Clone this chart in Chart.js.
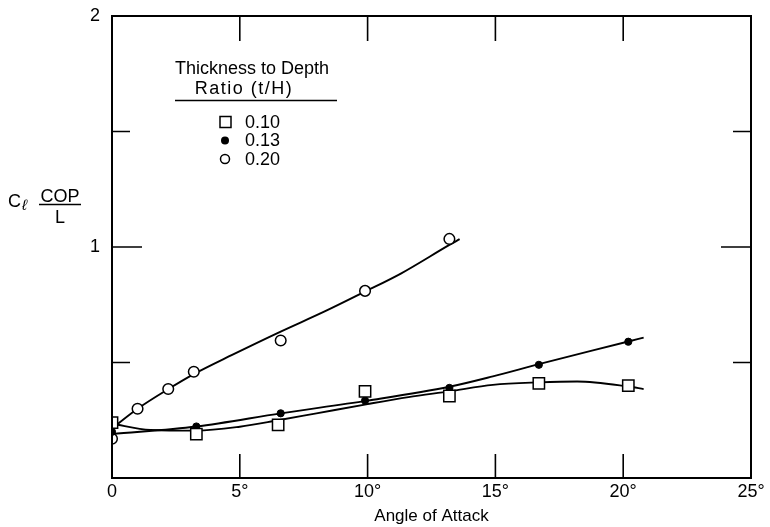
<!DOCTYPE html>
<html>
<head>
<meta charset="utf-8">
<script src="https://cdn.jsdelivr.net/npm/chart.js@4.4.1/dist/chart.umd.min.js"></script>
<style>
  body { margin: 0; background: #fff; }
  #wrap { width: 770px; height: 527px; }
</style>
</head>
<body>
<div id="wrap"><canvas id="copChart" width="770" height="527"></canvas></div>
<script>
// Measured points, thickness to depth ratio 0.10 / 0.13 / 0.20
const angles10 = [0, 3.3, 6.5, 9.9, 13.2, 16.7, 20.2];
const cop10 = [0.24, 0.19, 0.23, 0.375, 0.355, 0.41, 0.40];
const angles13 = [0, 3.3, 6.6, 9.9, 13.2, 16.7, 20.2];
const cop13 = [0.20, 0.223, 0.28, 0.335, 0.39, 0.49, 0.59];
const angles20 = [0, 1.0, 2.2, 3.2, 6.6, 9.9, 13.2];
const cop20 = [0.17, 0.30, 0.385, 0.46, 0.595, 0.81, 1.035];

// Faired curves drawn through the points
const fitAngles10 = [0, 1.5, 3.3, 5, 6.5, 8, 10, 11.6, 13.2, 14.9, 16.7, 18.2, 20.2, 20.8];
const fitCop10 = [0.235, 0.208, 0.205, 0.222, 0.25, 0.28, 0.32, 0.35, 0.375, 0.403, 0.414, 0.418, 0.396, 0.385];
const fitAngles13 = [0, 3.3, 6.6, 10, 13.2, 14.9, 16.7, 20.2, 20.8];
const fitCop13 = [0.19, 0.223, 0.28, 0.335, 0.395, 0.44, 0.493, 0.591, 0.608];
const fitAngles20 = [0, 1.0, 2.2, 3.2, 4.7, 6.6, 8.3, 9.9, 11.3, 13.2, 13.6];
const fitCop20 = [0.215, 0.30, 0.385, 0.45, 0.533, 0.634, 0.72, 0.807, 0.885, 1.009, 1.034];

const seriesLabels = ['0.10', '0.13', '0.20'];
const legendTitle = ['Thickness to Depth', 'Ratio (t/H)'];

// Axis ticks
const xTicks = [0, 5, 10, 15, 20, 25];
const xInnerTicks = [5, 10, 15, 20];
const yLabelTicks = [1, 2];
const yShortTicks = [0.5, 1.5];
const yLongTicks = [1];

const FONT = '"Liberation Sans", Arial, Helvetica, sans-serif';

function pairs(xs, ys) {
    return xs.map((x, i) => ({ x: x, y: ys[i] }));
}

// Frame with inward tick marks
const framePlugin = {
    id: 'frame',
    afterDatasetsDraw(chart) {
        const ctx = chart.ctx;
        const a = chart.chartArea;
        const xs = chart.scales.x;
        const ys = chart.scales.y;
        ctx.save();
        ctx.strokeStyle = '#000';
        ctx.lineWidth = 2;
        ctx.strokeRect(a.left, a.top, a.right - a.left, a.bottom - a.top);
        ctx.lineWidth = 1.6;
        ctx.beginPath();
        xInnerTicks.forEach(v => {
            const px = xs.getPixelForValue(v);
            ctx.moveTo(px, a.bottom); ctx.lineTo(px, a.bottom - 24);
            ctx.moveTo(px, a.top); ctx.lineTo(px, a.top + 25);
        });
        yShortTicks.forEach(v => {
            const py = ys.getPixelForValue(v);
            ctx.moveTo(a.left, py); ctx.lineTo(a.left + 18, py);
            ctx.moveTo(a.right, py); ctx.lineTo(a.right - 18, py);
        });
        yLongTicks.forEach(v => {
            const py = ys.getPixelForValue(v);
            ctx.moveTo(a.left, py); ctx.lineTo(a.left + 30, py);
            ctx.moveTo(a.right, py); ctx.lineTo(a.right - 30, py);
        });
        ctx.stroke();
        ctx.restore();
    }
};

// Legend block inside the plot and the y axis title
const notesPlugin = {
    id: 'notes',
    afterDraw(chart) {
        const ctx = chart.ctx;
        ctx.save();
        ctx.fillStyle = '#000';
        ctx.strokeStyle = '#000';
        ctx.font = '18px ' + FONT;
        ctx.textBaseline = 'middle';
        ctx.textAlign = 'center';
        ctx.fillText(legendTitle[0], 252, 69);
        ctx.letterSpacing = '1.5px';
        ctx.fillText(legendTitle[1], 244, 89);
        ctx.letterSpacing = '0px';
        ctx.lineWidth = 1.5;
        ctx.beginPath();
        ctx.moveTo(175, 100.5); ctx.lineTo(337, 100.5);
        ctx.stroke();

        // markers
        const rows = [122, 140.5, 159];
        ctx.lineWidth = 1.5;
        ctx.fillStyle = '#fff';
        ctx.fillRect(220, rows[0] - 5.5, 11, 11);
        ctx.strokeRect(220, rows[0] - 5.5, 11, 11);
        ctx.fillStyle = '#000';
        ctx.beginPath();
        ctx.arc(225, rows[1], 4, 0, Math.PI * 2);
        ctx.fill();
        ctx.beginPath();
        ctx.arc(225, rows[2], 4.5, 0, Math.PI * 2);
        ctx.stroke();

        ctx.textAlign = 'left';
        seriesLabels.forEach((t, i) => ctx.fillText(t, 245, rows[i] + 1));

        // y title: C_l * COP / L
        ctx.font = '18px ' + FONT;
        ctx.fillText('C', 8, 202);
        ctx.font = 'italic 15px ' + FONT;
        ctx.fillText('\u2113', 22, 206);
        ctx.font = '18px ' + FONT;
        ctx.textAlign = 'center';
        ctx.fillText('COP', 60, 197);
        ctx.fillText('L', 60, 218.5);
        ctx.lineWidth = 1.3;
        ctx.beginPath();
        ctx.moveTo(39, 204.5); ctx.lineTo(81, 204.5);
        ctx.stroke();
        ctx.restore();
    }
};

const ctx = document.getElementById('copChart');

new Chart(ctx, {
    type: 'scatter',
    data: {
        datasets: [
            {
                label: seriesLabels[0],
                data: pairs(angles10, cop10),
                pointStyle: 'rect',
                pointRadius: 8,
                pointBackgroundColor: '#fff',
                pointBorderColor: '#000',
                pointBorderWidth: 1.5,
                showLine: false
            },
            {
                label: seriesLabels[1],
                data: pairs(angles13, cop13),
                pointStyle: 'circle',
                pointRadius: 3.6,
                pointBackgroundColor: '#000',
                pointBorderColor: '#000',
                pointBorderWidth: 1,
                showLine: false
            },
            {
                label: seriesLabels[2],
                data: pairs(angles20, cop20),
                pointStyle: 'circle',
                pointRadius: 5.3,
                pointBackgroundColor: '#fff',
                pointBorderColor: '#000',
                pointBorderWidth: 1.5,
                showLine: false
            },
            {
                label: 'fit 0.10',
                data: pairs(fitAngles10, fitCop10),
                showLine: true,
                pointRadius: 0,
                borderColor: '#000',
                borderWidth: 1.9,
                cubicInterpolationMode: 'monotone'
            },
            {
                label: 'fit 0.13',
                data: pairs(fitAngles13, fitCop13),
                showLine: true,
                pointRadius: 0,
                borderColor: '#000',
                borderWidth: 1.9,
                cubicInterpolationMode: 'monotone'
            },
            {
                label: 'fit 0.20',
                data: pairs(fitAngles20, fitCop20),
                showLine: true,
                pointRadius: 0,
                borderColor: '#000',
                borderWidth: 1.9,
                cubicInterpolationMode: 'monotone'
            }
        ]
    },
    options: {
        responsive: false,
        animation: false,
        events: [],
        layout: {
            padding: { top: 16, right: 19, left: 0, bottom: 0 }
        },
        plugins: {
            legend: { display: false },
            tooltip: { enabled: false }
        },
        scales: {
            x: {
                type: 'linear',
                min: 0,
                max: 25,
                grid: { display: false, drawTicks: false },
                border: { display: false },
                afterBuildTicks: scale => {
                    scale.ticks = xTicks.map(v => ({ value: v }));
                },
                afterFit: scale => {
                    scale.height = 49;
                    scale.paddingLeft = 0;
                    scale.paddingRight = 0;
                },
                ticks: {
                    color: '#000',
                    font: { family: FONT, size: 18 },
                    padding: 3,
                    maxRotation: 0,
                    autoSkip: false,
                    callback: v => v === 0 ? '0' : v + '\u00b0'
                },
                title: {
                    display: true,
                    text: 'Angle of Attack',
                    color: '#000',
                    font: { family: FONT, size: 17 },
                    padding: { top: 0, bottom: 0 }
                }
            },
            y: {
                type: 'linear',
                min: 0,
                max: 2,
                grid: { display: false, drawTicks: false },
                border: { display: false },
                afterBuildTicks: scale => {
                    scale.ticks = yLabelTicks.map(v => ({ value: v }));
                },
                afterFit: scale => {
                    scale.width = 112;
                    scale.paddingTop = 0;
                    scale.paddingBottom = 0;
                },
                ticks: {
                    color: '#000',
                    font: { family: FONT, size: 18 },
                    padding: 12
                }
            }
        }
    },
    plugins: [framePlugin, notesPlugin]
});
</script>
</body>
</html>
